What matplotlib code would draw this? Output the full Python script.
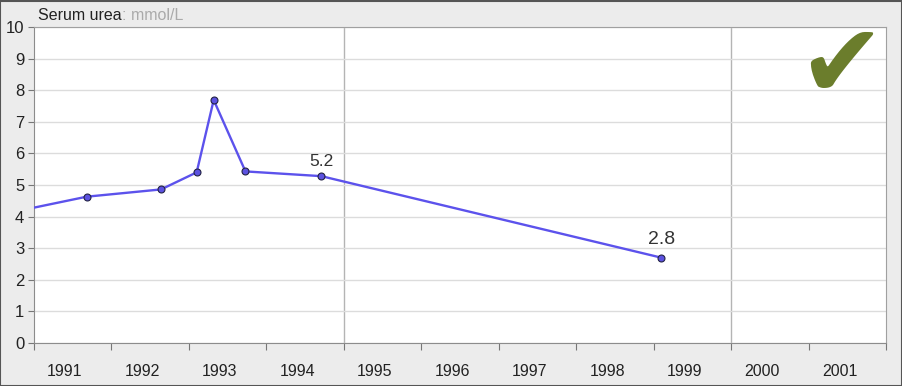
import matplotlib.pyplot as plt
from matplotlib.patches import Rectangle

# Serum urea readings (decimal year, mmol/L); first point lies left of the visible range
years = [1990.2, 1991.28, 1992.24, 1992.70, 1992.92, 1993.33, 1994.31, 1998.70]
urea = [4.08, 4.63, 4.86, 5.40, 7.69, 5.43, 5.28, 2.70]
label_years = list(range(1991, 2002))
y_ticks = list(range(0, 11))
x_start = 1990.6
x_end = 2001.6
vgrid = [1994.6, 1999.6]

# point index -> (label text, offset pt, font size)
point_labels = {6: ("5.2", 5, 12.5), 7: ("2.8", 7, 14)}

plt.rcParams["font.family"] = ["Liberation Sans", "DejaVu Sans"]

fig = plt.figure(figsize=(9.03, 3.86), dpi=100, facecolor="#ececec")
ax = fig.add_axes([34 / 903, 43 / 386, 852 / 903, 316 / 386])
ax.set_facecolor("white")

ax.set_xlim(x_start, x_end)
ax.set_ylim(0, 10)

# horizontal grid
ax.set_yticks(y_ticks)
ax.grid(axis="y", color="#dcdcdc", linewidth=1)
for v in vgrid:
    ax.axvline(v, color="#b4b4b4", linewidth=1, zorder=1)

# major ticks are boundaries, minor ticks carry the year labels
major = [x_start + k for k in range(int(round(x_end - x_start)) + 1)]
ax.set_xticks(major)
ax.set_xticklabels([])
ax.set_xticks(label_years, minor=True)
ax.set_xticklabels([str(y) for y in label_years], minor=True)
ax.tick_params(axis="x", which="major", length=5, color="#777777", direction="out")
ax.tick_params(axis="x", which="minor", length=0, pad=15, labelsize=11.5,
               labelcolor="#222222")
ax.tick_params(axis="y", length=4, color="#777777", labelsize=12,
               labelcolor="#222222", pad=3)

for side in ["left", "bottom"]:
    ax.spines[side].set_color("#8c8c8c")
for side in ["top", "right"]:
    ax.spines[side].set_color("#a0a0a0")

ax.plot(years, urea, color="#5c52ec", linewidth=1.7, marker="o", markersize=5,
        markerfacecolor="#5c52e0", markeredgecolor="#222244", markeredgewidth=0.8,
        zorder=3, clip_on=True)

for idx, (txt, off, fs) in point_labels.items():
    ax.annotate(txt, (years[idx], urea[idx]), xytext=(0, off), textcoords="offset points",
                ha="center", va="bottom", fontsize=fs, color="#333333")

# title
t1 = fig.text(38 / 903, 1 - 16 / 386, "Serum urea", fontsize=11.5, color="#222222",
              va="center", ha="left")
ax.annotate(": mmol/L", xy=(1, 0.5), xycoords=t1, va="center", ha="left",
            fontsize=11.5, color="#aaaaaa", annotation_clip=False)

# check mark
fig.text(841 / 903, 1 - 68 / 386, "\u2714", fontsize=74, color="#6b7d2c",
         ha="center", va="center", family="DejaVu Sans")

# outer frame
fig.patches.append(Rectangle((0.5 / 903, 0), 1 - 1.5 / 903, 1 - 1 / 386,
                             transform=fig.transFigure, fill=False,
                             edgecolor="#555555", linewidth=1.5))

fig.savefig("out.png", dpi=100, facecolor=fig.get_facecolor())
